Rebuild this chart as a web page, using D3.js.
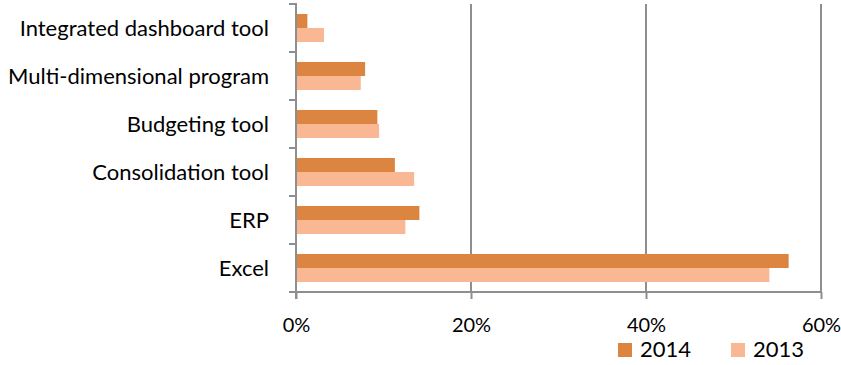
<!DOCTYPE html>
<html>
<head>
<meta charset="utf-8">
<script src="https://cdn.jsdelivr.net/npm/d3@7"></script>
<style>
  html, body { margin: 0; padding: 0; background: #fff; }
  svg text { font-family: Lato, "Open Sans", sans-serif; fill: #000; }
</style>
</head>
<body>
<svg id="chart" width="841" height="365"></svg>
<script>
const categories = ["Integrated dashboard tool", "Multi-dimensional program", "Budgeting tool", "Consolidation tool", "ERP", "Excel"];
const values2014 = [0.013, 0.079, 0.093, 0.113, 0.141, 0.563];
const values2013 = [0.032, 0.074, 0.095, 0.135, 0.125, 0.541];
const seriesNames = ["2014", "2013"];
const xTicks = [0, 0.2, 0.4, 0.6];

const colors = { "2014": "#DB8540", "2013": "#F9B893" };
const axisColor = "#8E8E8E";
const fontSize = 22;
const tickFontSize = 20;

const svg = d3.select("#chart");
const plotLeft = 296, plotRight = 821, plotTop = 4, plotBottom = 292;

const x = d3.scaleLinear().domain([0, 0.6]).range([plotLeft, plotRight]);
const pad = 20 / 48;
const y = d3.scaleBand().domain(categories).range([plotTop, plotBottom]).paddingInner(pad).paddingOuter(pad / 2);
const ySub = d3.scaleBand().domain(seriesNames).range([0, y.bandwidth()]);
const boundary = d3.scaleLinear().domain([0, categories.length]).range([plotTop, plotBottom]);

const data = categories.map((c, i) => ({ cat: c, "2014": values2014[i], "2013": values2013[i] }));

// gridlines
svg.append("g").selectAll("line").data(xTicks.filter(t => t > 0)).join("line")
  .attr("x1", d => x(d)).attr("x2", d => x(d))
  .attr("y1", plotTop).attr("y2", plotBottom)
  .attr("stroke", axisColor).attr("stroke-width", 2);

// bars
const groups = svg.append("g").selectAll("g").data(data).join("g")
  .attr("transform", d => `translate(0,${y(d.cat)})`);
groups.selectAll("rect").data(d => seriesNames.map(s => ({ s, v: d[s] }))).join("rect")
  .attr("x", x(0)).attr("y", d => ySub(d.s))
  .attr("width", d => x(d.v) - x(0)).attr("height", ySub.bandwidth())
  .attr("fill", d => colors[d.s]);

// x axis
const xAxis = d3.axisBottom(x).tickValues(xTicks).tickFormat(d3.format(".0%")).tickSize(7);
const gx = svg.append("g").attr("transform", `translate(0,${plotBottom})`).call(xAxis);
gx.select(".domain").attr("stroke", axisColor).attr("stroke-width", 2).attr("d", `M${plotLeft - 1},0H${plotRight + 1}`);
gx.selectAll(".tick line").attr("stroke", axisColor).attr("stroke-width", 2);
gx.selectAll(".tick text").attr("font-size", tickFontSize).attr("font-family", "Lato, sans-serif").attr("fill", "#000")
  .attr("y", 40).attr("dy", 0);

// y axis line and boundary ticks
const gy = svg.append("g");
gy.append("line").attr("x1", plotLeft).attr("x2", plotLeft).attr("y1", plotTop - 1).attr("y2", plotBottom + 7)
  .attr("stroke", axisColor).attr("stroke-width", 2);
gy.selectAll("line.t").data(d3.range(categories.length + 1)).join("line").attr("class", "t")
  .attr("x1", plotLeft - 7).attr("x2", plotLeft).attr("y1", d => boundary(d)).attr("y2", d => boundary(d))
  .attr("stroke", axisColor).attr("stroke-width", 2);
gy.selectAll("text").data(categories).join("text")
  .attr("x", 269).attr("y", d => y(d) + y.bandwidth() / 2)
  .attr("dy", "0.36em").attr("text-anchor", "end").attr("font-size", fontSize)
  .text(d => d);

// legend
const legendX = [618, 731];
const lg = svg.append("g").selectAll("g").data(seriesNames).join("g")
  .attr("transform", (d, i) => `translate(${legendX[i]},343)`);
lg.append("rect").attr("width", 14).attr("height", 14).attr("fill", d => colors[d]);
lg.append("text").attr("x", 22).attr("y", 14).attr("font-size", fontSize).text(d => d);
</script>
</body>
</html>
